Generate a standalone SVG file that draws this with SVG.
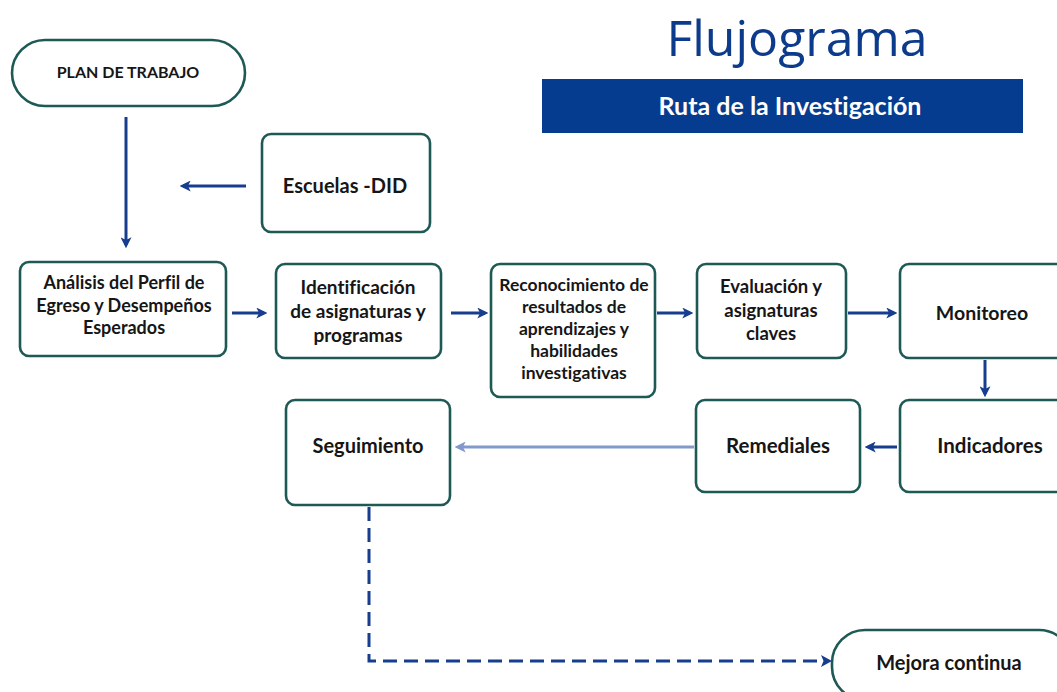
<svg xmlns="http://www.w3.org/2000/svg" width="1057" height="692" viewBox="0 0 1057 692">
<style>
.box{fill:#fff;stroke:#1d5955;stroke-width:2.6}
.t{font-family:Lato,"Open Sans",sans-serif;font-weight:700;fill:#161616;text-anchor:middle;font-variant-ligatures:none}
.c{fill:none;stroke:#163d8e;stroke-width:3}
.lt{fill:none;stroke:#8299cc;stroke-width:3}
.dash{fill:none;stroke:#163d8e;stroke-width:3;stroke-dasharray:14 7}
</style>
<defs>
<marker id="ah" markerUnits="userSpaceOnUse" markerWidth="11" markerHeight="11" viewBox="0 0 10 10" refX="7" refY="5" orient="auto">
<path d="M0,0 L10,5 L0,10 L2.5,5 z" fill="#163d8e"/>
</marker>
<marker id="ahl" markerUnits="userSpaceOnUse" markerWidth="11" markerHeight="11" viewBox="0 0 10 10" refX="7" refY="5" orient="auto">
<path d="M0,0 L10,5 L0,10 L2.5,5 z" fill="#8299cc"/>
</marker>
</defs>
<rect width="1057" height="692" fill="#fff"/>

<g id="title">
<text x="797" y="56" font-family="'Open Sans',Lato,sans-serif" font-size="50" fill="#0d3b8c" text-anchor="middle">Flujograma</text>
<rect x="542" y="79" width="481" height="54" fill="#063c8f"/>
<text x="790" y="115" font-family="Lato,'Open Sans',sans-serif" font-weight="700" font-size="25" fill="#fff" text-anchor="middle" style="font-variant-ligatures:none">Ruta de la Investigación</text>
</g>

<g id="connectors">
<line class="c" x1="126" y1="117" x2="126" y2="245" marker-end="url(#ah)"/>
<line class="c" x1="246" y1="186" x2="183" y2="186" marker-end="url(#ah)"/>
<line class="c" x1="232" y1="313" x2="264" y2="313" marker-end="url(#ah)"/>
<line class="c" x1="451" y1="313" x2="485" y2="313" marker-end="url(#ah)"/>
<line class="c" x1="657" y1="313" x2="690" y2="313" marker-end="url(#ah)"/>
<line class="c" x1="848" y1="313" x2="894" y2="313" marker-end="url(#ah)"/>
<line class="c" x1="985" y1="360" x2="985" y2="394" marker-end="url(#ah)"/>
<line class="c" x1="897" y1="447" x2="868" y2="447" marker-end="url(#ah)"/>
<line class="lt" x1="694" y1="447" x2="458" y2="447" marker-end="url(#ahl)"/>
<path class="dash" d="M369,507 L369,661 L828,661"/>
<path d="M821,655 L832,661 L821,667 L823.5,661 z" fill="#163d8e"/>
</g>

<g id="plan">
<rect class="box" x="12" y="40" width="233" height="66" rx="33"/>
<text class="t" x="128" y="78" font-size="16">PLAN DE TRABAJO</text>
</g>

<g id="escuelas">
<rect class="box" x="262" y="134" width="168" height="98" rx="9"/>
<text class="t" x="345" y="193" font-size="20">Escuelas -DID</text>
</g>

<g id="analisis">
<rect class="box" x="20" y="262" width="206" height="94" rx="9"/>
<text class="t" x="124" y="289" font-size="18">Análisis del Perfil de</text>
<text class="t" x="124" y="312" font-size="18">Egreso y Desempeños</text>
<text class="t" x="124" y="334" font-size="18">Esperados</text>
</g>

<g id="identificacion">
<rect class="box" x="276" y="264" width="165" height="94" rx="9"/>
<text class="t" x="358" y="294" font-size="19">Identificación</text>
<text class="t" x="358" y="318" font-size="19">de asignaturas y</text>
<text class="t" x="358" y="342" font-size="19">programas</text>
</g>

<g id="reconocimiento">
<rect class="box" x="491" y="264" width="164" height="133" rx="9"/>
<text class="t" x="574" y="291" font-size="17.5">Reconocimiento de</text>
<text class="t" x="574" y="313" font-size="17.5">resultados de</text>
<text class="t" x="574" y="335" font-size="17.5">aprendizajes y</text>
<text class="t" x="574" y="357" font-size="17.5">habilidades</text>
<text class="t" x="574" y="379" font-size="17.5">investigativas</text>
</g>

<g id="evaluacion">
<rect class="box" x="697" y="264" width="149" height="94" rx="9"/>
<text class="t" x="771" y="293" font-size="18.5">Evaluación y</text>
<text class="t" x="771" y="317" font-size="18.5">asignaturas</text>
<text class="t" x="771" y="340" font-size="18.5">claves</text>
</g>

<g id="monitoreo">
<rect class="box" x="900" y="264" width="170" height="94" rx="9"/>
<text class="t" x="982" y="320" font-size="19.5">Monitoreo</text>
</g>

<g id="indicadores">
<rect class="box" x="900" y="400" width="170" height="92" rx="9"/>
<text class="t" x="990" y="453" font-size="20.5">Indicadores</text>
</g>

<g id="remediales">
<rect class="box" x="696" y="400" width="164" height="92" rx="9"/>
<text class="t" x="778" y="453" font-size="20.5">Remediales</text>
</g>

<g id="seguimiento">
<rect class="box" x="286" y="400" width="164" height="105" rx="9"/>
<text class="t" x="368" y="453" font-size="20">Seguimiento</text>
</g>

<g id="mejora">
<rect class="box" x="832" y="630" width="240" height="70" rx="33"/>
<text class="t" x="949" y="670" font-size="20">Mejora continua</text>
</g>
</svg>
